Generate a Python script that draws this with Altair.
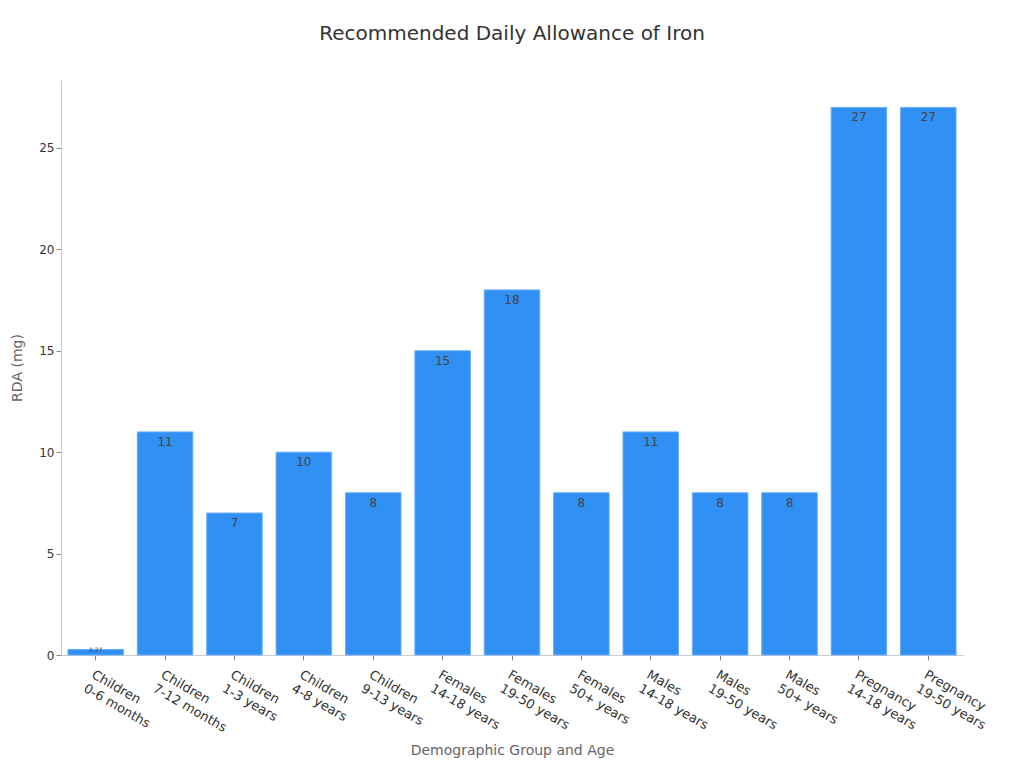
import altair as alt
import pandas as pd

groups = [
    "Children|0-6 months", "Children|7-12 months", "Children|1-3 years",
    "Children|4-8 years", "Children|9-13 years", "Females|14-18 years",
    "Females|19-50 years", "Females|50+ years", "Males|14-18 years",
    "Males|19-50 years", "Males|50+ years", "Pregnancy|14-18 years",
    "Pregnancy|19-50 years",
]
rda_mg = [0.27, 11, 7, 10, 8, 15, 18, 8, 11, 8, 8, 27, 27]
value_labels = ["0.27", "11", "7", "10", "8", "15", "18", "8", "11", "8", "8", "27", "27"]

df = pd.DataFrame({"group": groups, "rda": rda_mg, "label": value_labels})
big = df[df["rda"] >= 1]
small = df[df["rda"] < 1]

FONT = "DejaVu Sans"

x_enc = alt.X(
    "group:N",
    sort=groups,
    title="Demographic Group and Age",
    scale=alt.Scale(paddingInner=0.2, paddingOuter=0.1),
    axis=alt.Axis(
        labelExpr="split(datum.label, '|')",
        labelAngle=30,
        labelAlign="left",
        labelBaseline="top",
        labelFontSize=13,
        labelColor="#333333",
        labelLineHeight=16,
        labelPadding=8,
        titleFontSize=14,
        titleFontWeight="normal",
        titleColor="#666666",
        titlePadding=9,
        domainColor="#cccccc",
        tickColor="#888888",
    ),
)
y_enc = alt.Y(
    "rda:Q",
    title="RDA (mg)",
    scale=alt.Scale(domain=[0, 28.35], nice=False),
    axis=alt.Axis(
        values=[0, 5, 10, 15, 20, 25],
        grid=False,
        labelFontSize=12,
        labelColor="#333333",
        titleFontSize=14,
        titleFontWeight="normal",
        titleColor="#666666",
        titlePadding=14,
        domainColor="#cccccc",
        tickColor="#888888",
    ),
)

bars = alt.Chart(df).mark_bar(
    color="#3090f4", stroke="#6aaef7", strokeWidth=1
).encode(x=x_enc, y=y_enc)

labels = alt.Chart(big).mark_text(
    baseline="top", dy=5, fontSize=12, color="#444444"
).encode(x=alt.X("group:N", sort=groups), y="rda:Q", text="label:N")

labels_small = alt.Chart(small).mark_text(
    baseline="middle", dy=0, fontSize=6, color="#444444"
).encode(x=alt.X("group:N", sort=groups), y="rda:Q", text="label:N")

chart = (
    alt.layer(bars, labels, labels_small)
    .properties(
        width=902,
        height=575,
        padding={"left": 2, "top": 16, "right": 5, "bottom": 5},
        title=alt.TitleParams(
            "Recommended Daily Allowance of Iron",
            fontSize=20,
            fontWeight="normal",
            color="#333333",
            offset=36,
        ),
    )
    .configure(font=FONT)
    .configure_view(stroke=None)
)

chart.save("out.html", embed_options={"renderer": "svg", "actions": False})
